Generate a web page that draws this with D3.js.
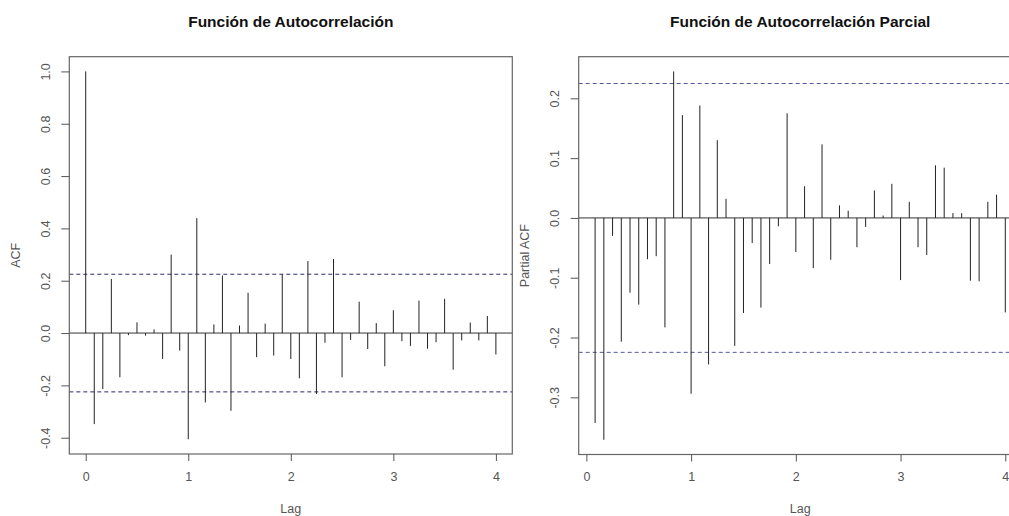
<!DOCTYPE html>
<html>
<head>
<meta charset="utf-8">
<script src="https://cdn.jsdelivr.net/npm/d3@7"></script>
<style>
  body { margin: 0; background: #fff; }
  text { font-family: "Liberation Sans", Arial, sans-serif; }
</style>
</head>
<body>
<div id="chart"></div>
<script>
// monthly series, lags in years (k/12)
var acfValues = [1.0, -0.348, -0.214, 0.207, -0.169, -0.008, 0.041, -0.010, 0.014, -0.099, 0.300, -0.067,
        -0.406, 0.439, -0.265, 0.033, 0.220, -0.297, 0.029, 0.154, -0.092, 0.036, -0.086, 0.224,
        -0.099, -0.173, 0.275, -0.233, -0.037, 0.283, -0.169, -0.026, 0.120, -0.061, 0.038, -0.127,
        0.087, -0.031, -0.049, 0.124, -0.060, -0.035, 0.131, -0.140, -0.028, 0.040, -0.028, 0.065, -0.082];
var pacfValues = [-0.343, -0.371, -0.030, -0.207, -0.125, -0.145, -0.069, -0.064, -0.183, 0.245, 0.172, -0.294,
        0.188, -0.245, 0.130, 0.032, -0.214, -0.159, -0.042, -0.150, -0.077, -0.014, 0.175, -0.057,
        0.053, -0.084, 0.123, -0.070, 0.021, 0.012, -0.049, -0.015, 0.046, 0.004, 0.057, -0.104,
        0.027, -0.049, -0.062, 0.088, 0.084, 0.008, 0.008, -0.105, -0.106, 0.027, 0.039, -0.158];
var confLimit = 0.2248;
var xTicks = [0, 1, 2, 3, 4];
var acfTicks = [-0.4, -0.2, 0.0, 0.2, 0.4, 0.6, 0.8, 1.0];
var pacfTicks = [-0.3, -0.2, -0.1, 0.0, 0.1, 0.2];

var width = 1009, height = 516;
var svg = d3.select('#chart').append('svg')
        .attr('width', width)
        .attr('height', height)
        .attr('style', 'background-color:white');

// R-style axis range: data range widened by 4% on each side
function rRange(lo, hi) {
        var d = (hi - lo) * 0.04;
        return [lo - d, hi + d];
}

function drawPanel(opts) {
        var data = opts.values.map(function (v, i) { return { lag: (i + opts.firstLag) / 12, value: v }; });
        var box = opts.box;

        var xscale = d3.scaleLinear()
                .domain(rRange(d3.min(data, function (d) { return d.lag; }), d3.max(data, function (d) { return d.lag; })))
                .range([box.left, box.right]);
        var ylo = Math.min(-confLimit, d3.min(data, function (d) { return d.value; }));
        var yhi = Math.max(confLimit, d3.max(data, function (d) { return d.value; }));
        var yscale = d3.scaleLinear()
                .domain(rRange(ylo, yhi))
                .range([box.bottom, box.top]);

        var g = svg.append('g');

        // zero line
        g.append('line')
                .attr('x1', box.left).attr('x2', box.right)
                .attr('y1', yscale(0)).attr('y2', yscale(0))
                .attr('stroke', '#333').attr('stroke-width', 1);

        // confidence bounds
        [confLimit, -confLimit].forEach(function (c) {
                g.append('line')
                        .attr('x1', box.left).attr('x2', box.right)
                        .attr('y1', yscale(c)).attr('y2', yscale(c))
                        .attr('stroke', opts.dashColor)
                        .attr('stroke-width', 1)
                        .attr('stroke-dasharray', '4,3');
        });

        // spikes
        g.selectAll('.spike')
                .data(data)
                .enter().append('line')
                .attr('class', 'spike')
                .attr('x1', function (d) { return xscale(d.lag); })
                .attr('x2', function (d) { return xscale(d.lag); })
                .attr('y1', yscale(0))
                .attr('y2', function (d) { return yscale(d.value); })
                .attr('stroke', '#222')
                .attr('stroke-width', 1);

        // box
        g.append('rect')
                .attr('x', box.left).attr('y', box.top)
                .attr('width', box.right - box.left)
                .attr('height', box.bottom - box.top)
                .attr('fill', 'none')
                .attr('stroke', '#666')
                .attr('stroke-width', 1.2);

        // x axis
        var xa = g.append('g')
                .attr('transform', 'translate(0,' + box.bottom + ')')
                .call(d3.axisBottom(xscale).tickValues(xTicks).tickSize(7).tickPadding(11)
                        .tickFormat(function (d) { return String(d); }));
        xa.select('.domain').remove();
        xa.selectAll('line').attr('stroke', '#555');
        xa.selectAll('text').attr('fill', '#555').style('font-size', '12.5px')
                .style('font-family', '"Liberation Sans", Arial, sans-serif');

        // y axis, labels parallel to the axis
        var ya = g.append('g')
                .attr('transform', 'translate(' + box.left + ',0)')
                .call(d3.axisLeft(yscale).tickValues(opts.yTicks).tickSize(8)
                        .tickFormat(function (d) { return d.toFixed(1); }));
        ya.select('.domain').remove();
        ya.selectAll('line').attr('stroke', '#555');
        ya.selectAll('text')
                .attr('x', null).attr('dy', null)
                .attr('transform', 'translate(-23,0) rotate(-90)')
                .attr('text-anchor', 'middle')
                .attr('dominant-baseline', 'middle')
                .attr('fill', '#555').style('font-size', '12.5px')
                .style('font-family', '"Liberation Sans", Arial, sans-serif');

        var cx = (box.left + box.right) / 2;
        var cy = (box.top + box.bottom) / 2;

        g.append('text')
                .attr('x', cx).attr('y', 27)
                .attr('text-anchor', 'middle')
                .style('font-size', '15.5px').style('font-weight', 'bold')
                .attr('fill', '#111')
                .text(opts.title);

        g.append('text')
                .attr('x', cx).attr('y', 513)
                .attr('text-anchor', 'middle')
                .style('font-size', '12.5px')
                .attr('fill', '#555')
                .text('Lag');

        g.append('text')
                .attr('transform', 'translate(' + (box.left - 53) + ',' + cy + ') rotate(-90)')
                .attr('text-anchor', 'middle')
                .attr('dominant-baseline', 'middle')
                .style('font-size', '12.5px')
                .attr('fill', '#555')
                .text(opts.ylabel);
}

drawPanel({
        values: acfValues, firstLag: 0, yTicks: acfTicks,
        box: { left: 69.3, right: 512.3, top: 56.7, bottom: 454 },
        title: 'Función de Autocorrelación', ylabel: 'ACF', dashColor: '#2a2a70'
});
drawPanel({
        values: pacfValues, firstLag: 1, yTicks: pacfTicks,
        box: { left: 578.7, right: 1021.7, top: 56.7, bottom: 454.5 },
        title: 'Función de Autocorrelación Parcial', ylabel: 'Partial ACF', dashColor: '#5858a0'
});
</script>
</body>
</html>
